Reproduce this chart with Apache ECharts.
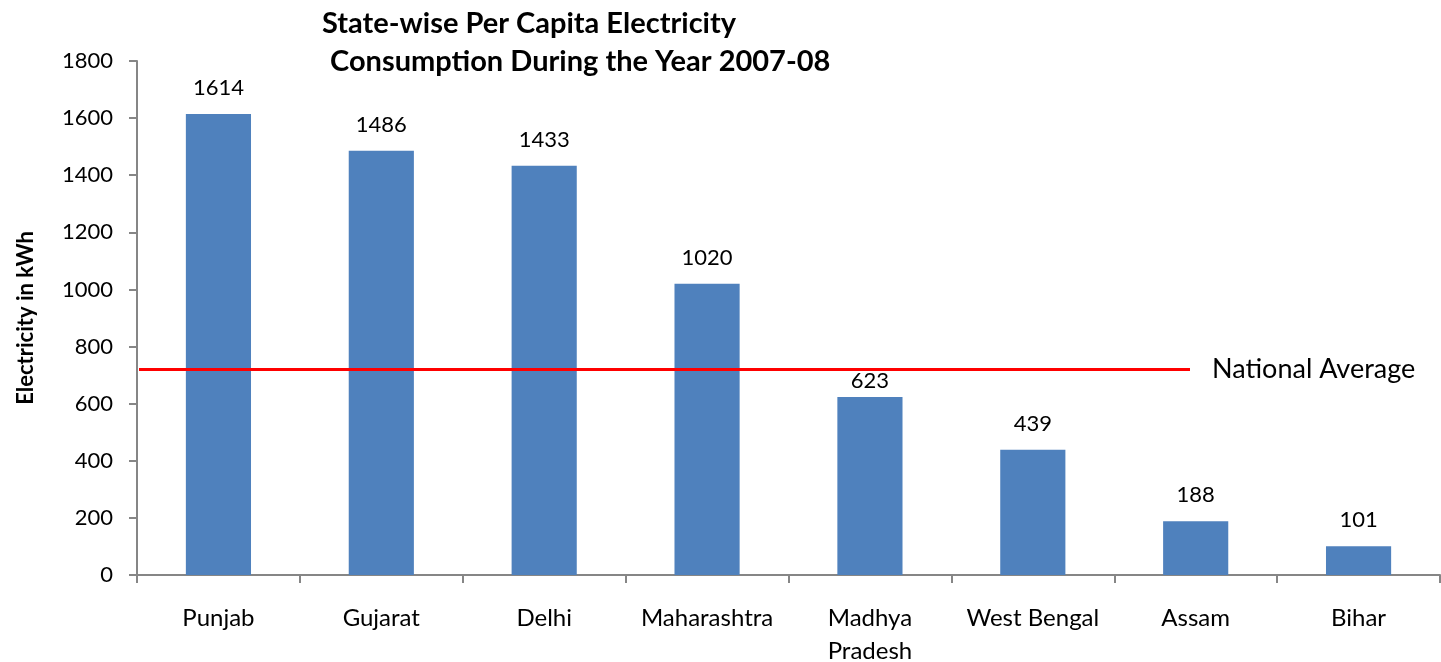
<!DOCTYPE html>
<html>
<head>
<meta charset="utf-8">
<script src="https://cdn.jsdelivr.net/npm/echarts@6/dist/echarts.min.js"></script>
<style>
  html, body { margin: 0; padding: 0; background: #ffffff; }
  #chart { width: 1441px; height: 662px; }
</style>
</head>
<body>
<div id="chart"></div>
<script>
// State-wise per capita electricity consumption, 2007-08 (kWh)
const states = ['Punjab', 'Gujarat', 'Delhi', 'Maharashtra', 'Madhya\nPradesh', 'West Bengal', 'Assam', 'Bihar'];
const consumption = [1614, 1486, 1433, 1020, 623, 439, 188, 101];
const nationalAverage = 720;
const yTicks = [0, 200, 400, 600, 800, 1000, 1200, 1400, 1600, 1800];

const FONT = 'Lato, "Open Sans", sans-serif';
const chart = echarts.init(document.getElementById('chart'), null, { renderer: 'canvas' });

// The label of a bar sitting just under the average line is tucked closer to its bar
const barData = consumption.map((v) => (
  v < nationalAverage && v > nationalAverage - 150
    ? { value: v, label: { distance: 5 } }
    : v
));

chart.setOption({
  animation: false,
  backgroundColor: '#ffffff',
  title: [
    {
      text: 'State-wise Per Capita Electricity',
      left: 317, top: 4,
      textStyle: { fontFamily: FONT, fontSize: 29, fontWeight: 'bold', color: '#000000' }
    },
    {
      text: 'Consumption During the Year 2007-08',
      left: 325, top: 42,
      textStyle: { fontFamily: FONT, fontSize: 29, fontWeight: 'bold', color: '#000000' }
    }
  ],
  grid: { left: 137, right: 1, top: 61, bottom: 87, containLabel: false, outerBoundsMode: 'none' },
  xAxis: {
    type: 'category',
    data: states,
    axisLine: { lineStyle: { color: '#868686', width: 2 } },
    axisTick: { show: true, alignWithLabel: false, length: 8, lineStyle: { color: '#868686', width: 2 } },
    axisLabel: { fontFamily: FONT, fontSize: 24, color: '#000000', margin: 27, lineHeight: 33, interval: 0 },
    splitLine: { show: false }
  },
  yAxis: {
    type: 'value',
    min: yTicks[0],
    max: yTicks[yTicks.length - 1],
    interval: yTicks[1] - yTicks[0],
    name: 'Electricity in kWh',
    nameLocation: 'middle',
    nameGap: 100,
    nameTextStyle: { fontFamily: FONT, fontSize: 22, fontWeight: 'bold', color: '#000000' },
    axisLine: { show: true, lineStyle: { color: '#868686', width: 2 } },
    axisTick: { show: true, length: 8, lineStyle: { color: '#868686', width: 2 } },
    axisLabel: {
      fontFamily: FONT, fontSize: 22, color: '#000000', margin: 24,
      formatter: (v) => String(v)
    },
    splitLine: { show: false }
  },
  series: [
    {
      type: 'bar',
      data: barData,
      barWidth: '40%',
      itemStyle: { color: '#4F81BD' },
      label: {
        show: true,
        position: 'top',
        distance: 15,
        fontFamily: FONT,
        fontSize: 22,
        color: '#000000'
      },
      markLine: {
        silent: true,
        symbol: ['none', 'none'],
        lineStyle: { color: '#FF0000', width: 3, type: 'solid' },
        label: {
          show: true,
          position: 'end',
          distance: 22,
          formatter: 'National Average',
          fontFamily: FONT,
          fontSize: 27,
          color: '#000000'
        },
        data: [
          [
            { yAxis: nationalAverage, x: 139 },
            { yAxis: nationalAverage, x: 1190 }
          ]
        ]
      }
    }
  ]
});
</script>
</body>
</html>
